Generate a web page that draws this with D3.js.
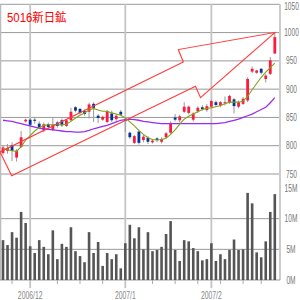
<!DOCTYPE html>
<html><head><meta charset="utf-8">
<script src="https://cdn.jsdelivr.net/npm/d3@7/dist/d3.min.js"></script>
<style>html,body{margin:0;padding:0;background:#fff;overflow:hidden}</style>
</head><body>
<svg id="c" width="300" height="300"></svg>
<script>
const title = "5016新日鉱";
const dates = ["11/22","11/24","11/27","11/28","11/29","11/30",
"12/01","12/04","12/05","12/06","12/07","12/08","12/11","12/12","12/13","12/14","12/15","12/18","12/19","12/20","12/21","12/22","12/25","12/26","12/27","12/28","12/29",
"01/04","01/05","01/09","01/10","01/11","01/12","01/15","01/16","01/17","01/18","01/19","01/22","01/23","01/24","01/25","01/26","01/29","01/30","01/31",
"02/01","02/02","02/05","02/06","02/07","02/08","02/09","02/13","02/14","02/15","02/16","02/19","02/20","02/21","02/22"];
const open  = [787,791,801,779,798,843,846,846,839,827,838,828,841,845,835,845,868,865,861,860,874,853,846,842,857,847,860,846,823,805,825,810,814,806,813,807,815,823,850,845,860,858,846,861,868,863,869,877,871,876,876,882,869,874,880,931,929,936,918,927,963];
const high  = [801,803,806,794,826,848,849,851,843,841,841,849,844,848,847,867,870,867,864,876,877,856,853,863,862,856,863,849,825,819,827,819,817,812,815,815,824,843,856,855,877,871,859,870,872,874,882,880,879,887,890,884,880,886,921,940,934,937,927,957,1000];
const low   = [784,786,773,772,796,841,833,839,829,824,830,826,832,833,833,843,859,855,853,848,842,840,844,840,842,844,853,824,812,803,802,806,803,804,806,804,813,821,843,841,858,855,843,858,862,860,866,869,868,871,874,857,866,872,877,928,927,926,912,925,962];
const close = [797,796,791,791,815,846,837,844,832,838,833,837,835,836,845,860,862,858,856,873,867,849,851,861,845,853,855,844,815,817,805,816,807,809,810,812,822,840,846,852,869,869,857,867,865,870,879,872,877,877,888,870,877,883,918,936,933,929,924,951,992];
const volume = [6.5,5.7,7.8,6.9,11.1,9.3,5.5,4.4,6.5,5.4,4.2,8.1,3.4,5.9,5.4,8.6,4.7,3.9,2.9,7.8,4.4,6.2,2.3,4.4,3.4,4.2,1.9,6.0,9.0,6.8,8.6,5.0,7.8,4.7,4.9,5.4,7.5,9.6,4.9,3.1,6.5,6.3,5.2,4.7,3.2,3.4,6.0,3.1,4.2,3.4,4.9,6.6,4.9,5.0,14.2,12.5,4.5,3.7,6.3,11.1,14.0];
const ma5  = [795,793,791,790,798,810,818,826,832,836,837,837,837,837,838,843,849,854,858,863,866,863,861,861,858,856,854,849,842,835,827,820,814,811,810,811,813,820,828,838,847,852,856,860,864,866,867,869,871,874,877,877,877,879,887,899,910,921,930,938,946];
const ma25 = [845,844,843,841,839,837,835,833,831,830,829,828,827,826,825,825,824,824,825,827,830,832,834,836,839,842,845,846,847,846,845,843,842,841,840,839,839,839,839,839,839,839,839,839,839,839,839,839,840,841,843,845,847,850,853,856,860,864,868,876,885];
const priceTicks = [750,800,850,900,950,1000,1050];
const volTicks = [0,5,10,15];
const volTickLabels = ["0M","5M","10M","15M"];
const monthStarts = [["12/01","2006/12"],["01/04","2007/1"],["02/01","2007/2"]];
const weekTicks = ["11/27","12/11","12/18","12/25","01/15","01/22","01/29","02/05","02/13","02/19"];
// trend arrow outline: [trading-day index, price]
const arrow = [[-0.66,789],[1.92,747],[42.5,905],[43.6,885],[60,1000],[38.7,970],[39.8,948]];

const svg = d3.select("#c");
const xi = d3.scaleLinear().domain([0, dates.length-1]).range([3, 274.8]);
const x = d => xi(dates.indexOf(d));
const y = d3.scaleLinear().domain([750,1050]).range([174, 4.3]);
const yv = d3.scaleLinear().domain([0,15]).range([280, 188]);
const L = 0, R = 280;
const sans = '"Liberation Sans",Arial,sans-serif';

// horizontal grid
svg.append("g").selectAll("line").data(priceTicks).join("line")
  .attr("x1",L).attr("x2",R).attr("y1",d=>y(d)).attr("y2",d=>y(d))
  .attr("stroke","#999").attr("stroke-width",1);
svg.append("g").selectAll("line").data(volTicks.filter(v=>v>0&&v<15)).join("line")
  .attr("x1",L).attr("x2",R).attr("y1",d=>yv(d)).attr("y2",d=>yv(d))
  .attr("stroke","#999").attr("stroke-width",1);
// vertical borders & month lines
svg.append("line").attr("x1",0.5).attr("x2",0.5).attr("y1",y(1050)).attr("y2",yv(0)).attr("stroke","#bbb").attr("stroke-width",1.5);
svg.append("line").attr("x1",R).attr("x2",R).attr("y1",y(1050)).attr("y2",yv(0)).attr("stroke","#ccc").attr("stroke-width",2);
svg.append("g").selectAll("line").data(monthStarts).join("line")
  .attr("x1",d=>x(d[0])).attr("x2",d=>x(d[0])).attr("y1",y(1050)).attr("y2",288)
  .attr("stroke","#c4c4c4").attr("stroke-width",1.8);
// bottom axis line and week ticks
svg.append("line").attr("x1",L).attr("x2",R).attr("y1",yv(0)).attr("y2",yv(0)).attr("stroke","#999");
svg.append("g").selectAll("line").data(weekTicks).join("line")
  .attr("x1",d=>x(d)).attr("x2",d=>x(d)).attr("y1",yv(0)).attr("y2",yv(0)+4)
  .attr("stroke","#aaa");

// volume bars
svg.append("g").selectAll("rect").data(volume).join("rect")
  .attr("x",(d,i)=>xi(i)-1.3).attr("width",2.6)
  .attr("y",d=>yv(d)).attr("height",d=>yv(0)-yv(d))
  .attr("fill","#555");

// candles
const cg = svg.append("g");
cg.selectAll("line").data(dates).join("line")
  .attr("x1",(d,i)=>xi(i)).attr("x2",(d,i)=>xi(i))
  .attr("y1",(d,i)=>y(high[i])).attr("y2",(d,i)=>y(low[i]))
  .attr("stroke","#999").attr("stroke-width",1);
cg.selectAll("rect").data(dates).join("rect")
  .attr("x",(d,i)=>xi(i)-1.4).attr("width",2.8)
  .attr("y",(d,i)=>y(Math.max(open[i],close[i])))
  .attr("height",(d,i)=>Math.max(1,Math.abs(y(open[i])-y(close[i]))))
  .attr("fill",(d,i)=>close[i]>=open[i]?"#ff1a3c":"#003399");

// moving averages
const ln = d3.line().x((d,i)=>xi(i)).y(d=>y(d));
svg.append("path").attr("d",ln(ma25)).attr("fill","none").attr("stroke","#9a2cf0").attr("stroke-width",1.3);
svg.append("path").attr("d",ln(ma5)).attr("fill","none").attr("stroke","#7fa21a").attr("stroke-width",1.1);

// arrow
const al = d3.line().x(d=>xi(d[0])).y(d=>y(d[1])).curve(d3.curveLinearClosed);
svg.append("path").attr("d",al(arrow)).attr("fill","none").attr("stroke","#ff3b3b").attr("stroke-width",1.1);

// price labels (condensed by horizontal scaling)
svg.append("g").selectAll("text").data(priceTicks).join("text")
  .attr("transform",d=>`translate(291.5,${Math.max(y(d)+3.5,9.5)}) scale(0.66,1)`)
  .attr("text-anchor","middle")
  .attr("font-family",sans).attr("font-size",10).attr("fill","#777")
  .text(d=>d);
svg.append("g").selectAll("text").data(volTicks).join("text")
  .attr("transform",d=>`translate(291,${yv(d)+3.5}) scale(0.66,1)`)
  .attr("text-anchor","middle")
  .attr("font-family",sans).attr("font-size",10).attr("fill","#777")
  .text((d,i)=>volTickLabels[i]);
// date labels
svg.append("g").selectAll("text").data(monthStarts).join("text")
  .attr("transform",d=>`translate(${x(d[0])},298.5) scale(0.62,1)`)
  .attr("text-anchor","middle")
  .attr("font-family",sans).attr("font-size",11).attr("fill","#888")
  .text(d=>d[1]);
// title
svg.append("text").attr("transform","translate(7,21.5) scale(0.95,1)")
  .attr("font-family",'"Liberation Sans","Noto Sans CJK JP",sans-serif').attr("font-size",12)
  .attr("fill","#ff0000")
  .text(title);
</script>
</body></html>
